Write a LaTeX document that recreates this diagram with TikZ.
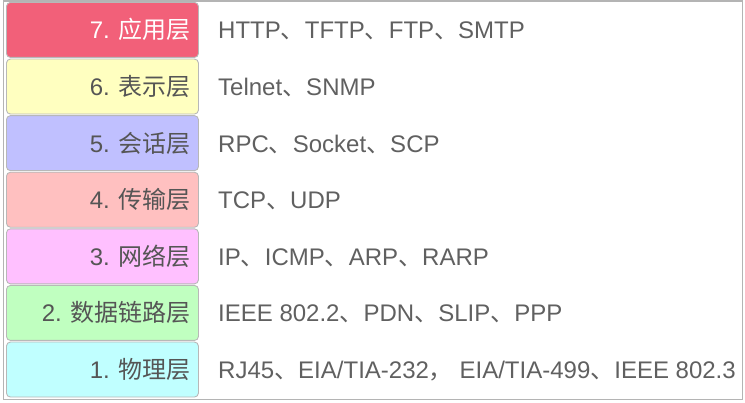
\documentclass[tikz,border=0pt]{standalone}
\usepackage{fontspec}
\setmainfont{Liberation Sans}
\newfontfamily\cjk{Noto Sans CJK SC}
\definecolor{cseven}{HTML}{F26079}
\definecolor{csix}{HTML}{FFFFC0}
\definecolor{cfive}{HTML}{C0C0FF}
\definecolor{cfour}{HTML}{FFC0C0}
\definecolor{cthree}{HTML}{FFC0FF}
\definecolor{ctwo}{HTML}{C0FFC0}
\definecolor{cone}{HTML}{C0FFFF}
\definecolor{labelgray}{HTML}{555555}
\definecolor{textgray}{HTML}{606060}
\definecolor{framegray}{HTML}{B4B4B4}
\definecolor{boxborder}{HTML}{B8B8B8}
\tikzset{
  layerbox/.style={draw=boxborder, line width=0.9pt, rounded corners=4pt,
    minimum width=192pt, minimum height=55pt, anchor=north west, inner sep=0pt},
  layerlabel/.style={anchor=base east, inner sep=0pt, text=labelgray,
    font=\fontsize{24}{28}\selectfont},
  proto/.style={anchor=base west, inner sep=0pt, text=textgray,
    font=\fontsize{24}{28}\selectfont},
}
\begin{document}
\begin{tikzpicture}[x=1pt,y=-1pt]
\useasboundingbox (0,0) rectangle (745,403);
\draw[framegray, line width=1.6pt] (3.5,0.8) rectangle (742.5,399.6);
% boxes
\node[layerbox, fill=cseven] (b7) at (6,2.0) {};
\node[layerbox, fill=csix]   (b6) at (6,58.6) {};
\node[layerbox, fill=cfive]  (b5) at (6,115.2) {};
\node[layerbox, fill=cfour]  (b4) at (6,171.8) {};
\node[layerbox, fill=cthree] (b3) at (6,228.4) {};
\node[layerbox, fill=ctwo]   (b2) at (6,285.0) {};
\node[layerbox, fill=cone]   (b1) at (6,341.6) {};
% labels
\node[layerlabel, text=white] (t7) at (191,38.9) {7. {\cjk 应用层}};
\node[layerlabel] (t6) at (191,95.5) {6. {\cjk 表示层}};
\node[layerlabel] (t5) at (191,152.1) {5. {\cjk 会话层}};
\node[layerlabel] (t4) at (191,208.7) {4. {\cjk 传输层}};
\node[layerlabel] (t3) at (191,265.3) {3. {\cjk 网络层}};
\node[layerlabel] (t2) at (191,321.9) {2. {\cjk 数据链路层}};
\node[layerlabel] (t1) at (191,378.5) {1. {\cjk 物理层}};
% protocols
\node[proto] (p7) at (218,38.9) {HTTP{\cjk 、}TFTP{\cjk 、}FTP{\cjk 、}SMTP};
\node[proto] (p6) at (218,95.5) {Telnet{\cjk 、}SNMP};
\node[proto] (p5) at (218,152.1) {RPC{\cjk 、}Socket{\cjk 、}SCP};
\node[proto] (p4) at (218,208.7) {TCP{\cjk 、}UDP};
\node[proto] (p3) at (218,265.3) {IP{\cjk 、}ICMP{\cjk 、}ARP{\cjk 、}RARP};
\node[proto] (p2) at (218,321.9) {IEEE 802.2{\cjk 、}PDN{\cjk 、}SLIP{\cjk 、}PPP};
\node[proto] (p1) at (218,378.5) {RJ45{\cjk 、}EIA/TIA-232{\cjk ，} EIA/TIA-499{\cjk 、}IEEE 802.3};
\end{tikzpicture}
\end{document}
